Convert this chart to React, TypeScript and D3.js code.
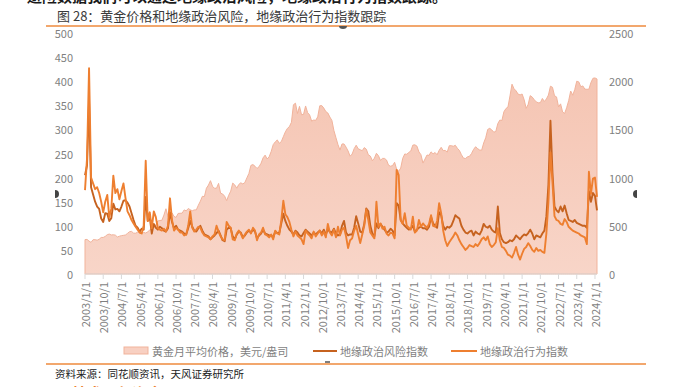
import React from 'react';
import * as d3 from 'd3';

// ---- data (monthly, 2003/1 .. 2024/2) ----
const startYear = 2003;
const startMonthIdx = 0;

const goldPrice = [
  357, 359, 341, 328, 356, 356, 351, 360, 379, 379, 390, 408,
  414, 405, 407, 403, 384, 392, 398, 401, 405, 421, 439, 442,
  424, 423, 434, 429, 422, 431, 425, 438, 456, 470, 477, 510,
  550, 555, 557, 611, 677, 596, 634, 633, 598, 586, 628, 630,
  631, 665, 655, 679, 667, 656, 665, 665, 713, 755, 806, 803,
  890, 922, 968, 910, 889, 890, 940, 839, 830, 807, 761, 816,
  859, 943, 924, 890, 929, 946, 934, 949, 997, 1043, 1127, 1135,
  1118, 1095, 1113, 1149, 1205, 1233, 1193, 1216, 1271, 1342, 1370, 1391,
  1356, 1373, 1424, 1474, 1510, 1529, 1573, 1756, 1772, 1665, 1739, 1652,
  1656, 1743, 1674, 1650, 1586, 1597, 1594, 1630, 1745, 1747, 1721, 1685,
  1670, 1628, 1593, 1488, 1414, 1342, 1286, 1349, 1349, 1316, 1276, 1222,
  1244, 1300, 1336, 1299, 1289, 1279, 1311, 1295, 1237, 1223, 1175, 1201,
  1252, 1227, 1179, 1199, 1199, 1182, 1128, 1118, 1125, 1159, 1086, 1068,
  1098, 1200, 1245, 1242, 1261, 1276, 1337, 1340, 1327, 1267, 1238, 1151,
  1192, 1234, 1231, 1267, 1246, 1260, 1237, 1283, 1314, 1280, 1282, 1265,
  1331, 1331, 1325, 1335, 1304, 1282, 1238, 1202, 1198, 1215, 1221, 1250,
  1292, 1320, 1301, 1286, 1284, 1359, 1413, 1500, 1511, 1495, 1471, 1479,
  1561, 1597, 1592, 1683, 1716, 1732, 1847, 1969, 1922, 1900, 1866, 1858,
  1867, 1808, 1718, 1760, 1850, 1835, 1808, 1785, 1776, 1777, 1821, 1790,
  1816, 1856, 1948, 1937, 1849, 1837, 1733, 1765, 1681, 1665, 1725, 1798,
  1898, 1855, 1913, 2000, 1993, 1943, 1951, 1918, 1916, 1917, 1986, 2030,
  2034, 2023,
];

const gprRisk = [
  205, 225, 358, 180, 165, 150, 140, 135, 115, 108, 126, 125,
  110, 116, 146, 134, 135, 130, 140, 152, 153, 148, 140, 126,
  112, 100, 96, 88, 94, 92, 160, 110, 118, 84, 104, 96,
  92, 98, 95, 90, 88, 95, 128, 108, 95, 100, 92, 90,
  88, 84, 82, 95, 110, 98, 90, 88, 95, 100, 90, 82,
  80, 78, 72, 76, 80, 85, 90, 80, 70, 68, 92, 96,
  95, 78, 72, 82, 88, 86, 76, 80, 86, 90, 86, 92,
  88, 74, 80, 84, 92, 84, 82, 80, 80, 76, 88, 85,
  85, 105, 125, 110, 100, 92, 88, 82, 90, 86, 80, 78,
  85, 92, 88, 84, 80, 86, 82, 86, 90, 84, 92, 82,
  92, 88, 86, 94, 84, 80, 82, 100, 110, 86, 80, 82,
  82, 96, 120, 105, 88, 86, 104, 136, 130, 100, 84, 78,
  105, 95, 104, 98, 92, 86, 88, 94, 90, 80, 147, 142,
  112, 105, 100, 96, 92, 94, 100, 88, 92, 96, 98, 95,
  95, 92, 98, 118, 105, 100, 96, 128, 122, 100, 92, 98,
  96, 100, 110, 122, 118, 115, 100, 92, 86, 84, 88, 90,
  80, 88, 84, 82, 90, 104, 98, 96, 100, 92, 88, 86,
  140, 85, 72, 66, 64, 66, 70, 68, 72, 80, 76, 72,
  78, 82, 80, 85, 92, 84, 72, 80, 78, 76, 84, 90,
  120, 185, 318, 210, 140, 132, 128, 140, 130, 142, 126, 112,
  110, 108, 112, 106, 104, 102, 100, 100, 96, 172, 150, 168,
  162, 132,
];

const gprActs = [
  174, 240, 427, 200, 188, 176, 180, 168, 150, 128, 150, 164,
  118, 135, 204, 168, 176, 155, 172, 188, 158, 130, 122, 112,
  105, 98, 92, 86, 84, 100, 235, 110, 128, 95, 130, 118,
  95, 92, 90, 94, 88, 100, 157, 112, 90, 96, 92, 86,
  86, 80, 82, 100, 130, 96, 88, 92, 98, 96, 86, 80,
  78, 76, 72, 78, 82, 100, 88, 78, 72, 70, 108, 100,
  96, 72, 70, 84, 90, 84, 74, 82, 88, 92, 84, 96,
  90, 70, 82, 86, 96, 82, 80, 76, 82, 72, 90, 84,
  82, 112, 152, 124, 118, 108, 92, 78, 88, 80, 76, 72,
  62, 90, 84, 80, 74, 88, 78, 84, 90, 80, 88, 76,
  104, 86, 80, 92, 76, 98, 80, 92, 96, 78, 54, 70,
  74, 90, 100, 82, 64, 82, 100, 134, 112, 86, 80, 74,
  150, 98, 105, 94, 98, 84, 80, 86, 84, 74, 216, 205,
  112, 104, 126, 100, 96, 92, 119, 86, 90, 112, 98, 105,
  100, 96, 104, 122, 100, 98, 110, 147, 126, 90, 70, 58,
  66, 72, 78, 86, 80, 70, 62, 56, 50, 54, 60, 58,
  56, 62, 58, 64, 72, 76, 70, 78, 62, 56, 60, 66,
  95, 70, 56, 54, 48, 40, 38, 34, 44, 56, 40, 30,
  42, 52, 56, 64, 58, 50, 46, 54, 48, 50, 46, 44,
  85, 150, 252, 190, 120, 112, 110, 104, 102, 114, 108, 98,
  94, 90, 88, 86, 84, 80, 78, 76, 62, 212, 166, 198,
  200, 160,
];

const leftTicks = [0, 50, 100, 150, 200, 250, 300, 350, 400, 450, 500];
const rightTicks = [0, 500, 1000, 1500, 2000, 2500];
const labelEveryMonths = 9;

const topText = '避险数据我们可以通过地缘政治风险，地缘政治行为指数跟踪。';
const titleText = '图 28：黄金价格和地缘政治风险，地缘政治行为指数跟踪';
const seriesNames = ['黄金月平均价格，美元/盎司', '地缘政治风险指数', '地缘政治行为指数'];
const sourceText = '资料来源：同花顺资讯，天风证券研究所';
const nextHeading = '4. 技术面与资金面';

const FONT = '"Noto Sans CJK SC", "Liberation Sans", sans-serif';
const AXIS_COLOR = '#7F7F7F';
const RISK_COLOR = '#C6621F';
const ACTS_COLOR = '#EE7F30';
const AREA_STROKE = '#F1B39B';

export default function App() {
  const W = 675;
  const H = 387;
  const n = goldPrice.length;
  const months = d3.range(n).map((i) => new Date(startYear, startMonthIdx + i, 1));
  const fmt = d3.timeFormat('%Y/%-m/%-d');

  const x = d3.scaleLinear().domain([0, n - 1]).range([85, 597]);
  const yL = d3.scaleLinear().domain([0, 500]).range([274, 33]);
  const yR = d3.scaleLinear().domain([0, 2500]).range([274, 33]);

  const areaGen = d3
    .area<number>()
    .x((_, i) => x(i))
    .y0(yR(0))
    .y1((d) => yR(d));
  const lineGen = d3
    .line<number>()
    .x((_, i) => x(i))
    .y((d) => yL(d));

  const tickIdx = d3.range(0, n, labelEveryMonths);
  const axisY = yL(0);

  return (
    <svg
      width={W}
      height={H}
      viewBox={`0 0 ${W} ${H}`}
      style={{ position: 'absolute', left: 0, top: 0, background: '#fff' }}
      fontFamily={FONT}
    >
      <defs>
        <linearGradient id="goldFill" x1="0" y1="0" x2="0" y2="1">
          <stop offset="0%" stopColor="#F5C5B3" />
          <stop offset="100%" stopColor="#F8D5C8" />
        </linearGradient>
      </defs>
      <rect x={0} y={0} width={W} height={H} fill="#fff" />

      {/* cut-off paragraph text at top */}
      <text x={27} y={2} fontSize={15} fontWeight="bold" fill="#1a1a1a">
        {topText}
      </text>

      {/* title */}
      <text x={57} y={21} fontSize={13} fill="#3a3a3a">
        {titleText}
      </text>
      <line x1={46} x2={646} y1={26} y2={26} stroke="#EE8A3C" strokeWidth={1.5} />

      {/* area */}
      <path d={areaGen(goldPrice) || ''} fill="url(#goldFill)" stroke={AREA_STROKE} strokeWidth={1} />

      {/* x axis */}
      <line x1={x(0)} x2={x(n - 1)} y1={axisY} y2={axisY} stroke="#D9D9D9" strokeWidth={1} />
      {tickIdx.map((i) => (
        <line key={'t' + i} x1={x(i)} x2={x(i)} y1={axisY} y2={axisY + 5} stroke="#D9D9D9" strokeWidth={1} />
      ))}
      {tickIdx.map((i) => (
        <text
          key={'l' + i}
          transform={`translate(${x(i)},${282}) rotate(-90)`}
          textAnchor="end"
          dominantBaseline="central"
          fontSize={11}
          fill={AXIS_COLOR}
        >
          {fmt(months[i])}
        </text>
      ))}

      {/* lines */}
      <path d={lineGen(gprRisk) || ''} fill="none" stroke={RISK_COLOR} strokeWidth={1.9} strokeLinejoin="round" />
      <path d={lineGen(gprActs) || ''} fill="none" stroke={ACTS_COLOR} strokeWidth={1.9} strokeLinejoin="round" />

      {/* left axis */}
      {leftTicks.map((t) => (
        <text key={'yl' + t} x={73} y={yL(t)} textAnchor="end" dominantBaseline="central" fontSize={11} fill={AXIS_COLOR}>
          {t}
        </text>
      ))}
      {/* right axis */}
      {rightTicks.map((t) => (
        <text key={'yr' + t} x={609} y={yR(t)} textAnchor="start" dominantBaseline="central" fontSize={11} fill={AXIS_COLOR}>
          {t}
        </text>
      ))}

      {/* legend */}
      <rect x={124} y={347} width={24} height={7} fill="#F8D0C2" stroke={AREA_STROKE} strokeWidth={1} />
      <text x={152} y={351} dominantBaseline="central" fontSize={11} fill={AXIS_COLOR}>
        {seriesNames[0]}
      </text>
      <line x1={313} x2={337} y1={351} y2={351} stroke={RISK_COLOR} strokeWidth={2} />
      <text x={340} y={351} dominantBaseline="central" fontSize={11} fill={AXIS_COLOR}>
        {seriesNames[1]}
      </text>
      <line x1={451} x2={477} y1={351} y2={351} stroke={ACTS_COLOR} strokeWidth={2} />
      <text x={480} y={351} dominantBaseline="central" fontSize={11} fill={AXIS_COLOR}>
        {seriesNames[2]}
      </text>

      {/* selection handles */}
      <path d="M55,190 A4,4 0 0 1 55,198 Z" fill="#444" />
      <path d="M637,190 A4,4 0 0 0 637,198 Z" fill="#444" />
      <path d="M339,26 A4,3 0 0 0 347,26 Z" fill="#555" />
      <line x1={325} x2={330} y1={362} y2={362} stroke="#555" strokeWidth={1.5} />

      {/* bottom rule + source */}
      <line x1={46} x2={646} y1={364} y2={364} stroke="#EE8A3C" strokeWidth={1.5} />
      <text x={55} y={373} dominantBaseline="central" fontSize={10.5} fill="#222">
        {sourceText}
      </text>
      <text x={55} y={399} fontSize={15} fontWeight="bold" fill="#EE7F30">
        {nextHeading}
      </text>
    </svg>
  );
}
